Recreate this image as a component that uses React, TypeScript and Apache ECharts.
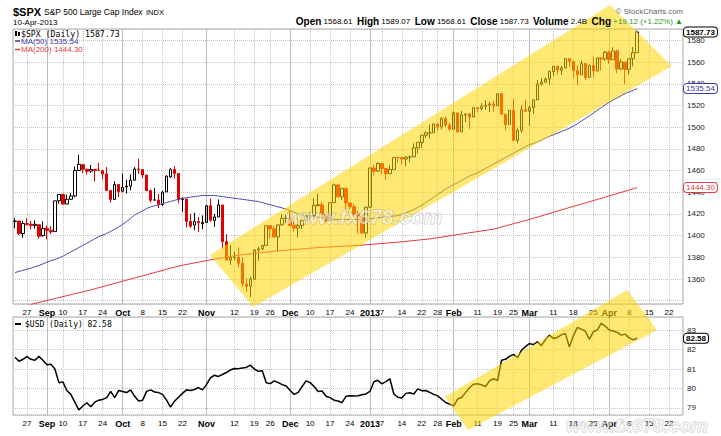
import { useEffect, useRef } from 'react';
import * as echarts from 'echarts';

const SANS = 'Liberation Sans, Arial, sans-serif';
const MONO = 'DejaVu Sans Mono, monospace';

// trading days (categories), incl. empty future slots
const dates = [
  '2012-08-22','2012-08-23','2012-08-24','2012-08-27','2012-08-28','2012-08-29','2012-08-30','2012-08-31',
  '2012-09-04','2012-09-05','2012-09-06','2012-09-07','2012-09-10','2012-09-11','2012-09-12','2012-09-13','2012-09-14',
  '2012-09-17','2012-09-18','2012-09-19','2012-09-20','2012-09-21','2012-09-24','2012-09-25','2012-09-26','2012-09-27','2012-09-28',
  '2012-10-01','2012-10-02','2012-10-03','2012-10-04','2012-10-05','2012-10-08','2012-10-09','2012-10-10','2012-10-11','2012-10-12',
  '2012-10-15','2012-10-16','2012-10-17','2012-10-18','2012-10-19','2012-10-22','2012-10-23','2012-10-24','2012-10-25','2012-10-26','2012-10-31',
  '2012-11-01','2012-11-02','2012-11-05','2012-11-06','2012-11-07','2012-11-08','2012-11-09','2012-11-12','2012-11-13','2012-11-14',
  '2012-11-15','2012-11-16','2012-11-19','2012-11-20','2012-11-21','2012-11-23','2012-11-26','2012-11-27','2012-11-28','2012-11-29','2012-11-30',
  '2012-12-03','2012-12-04','2012-12-05','2012-12-06','2012-12-07','2012-12-10','2012-12-11','2012-12-12','2012-12-13','2012-12-14',
  '2012-12-17','2012-12-18','2012-12-19','2012-12-20','2012-12-21','2012-12-24','2012-12-26','2012-12-27','2012-12-28','2012-12-31',
  '2013-01-02','2013-01-03','2013-01-04','2013-01-07','2013-01-08','2013-01-09','2013-01-10','2013-01-11','2013-01-14','2013-01-15',
  '2013-01-16','2013-01-17','2013-01-18','2013-01-22','2013-01-23','2013-01-24','2013-01-25','2013-01-28','2013-01-29','2013-01-30','2013-01-31',
  '2013-02-01','2013-02-04','2013-02-05','2013-02-06','2013-02-07','2013-02-08','2013-02-11','2013-02-12','2013-02-13','2013-02-14',
  '2013-02-15','2013-02-19','2013-02-20','2013-02-21','2013-02-22','2013-02-25','2013-02-26','2013-02-27','2013-02-28',
  '2013-03-01','2013-03-04','2013-03-05','2013-03-06','2013-03-07','2013-03-08','2013-03-11','2013-03-12','2013-03-13','2013-03-14',
  '2013-03-15','2013-03-18','2013-03-19','2013-03-20','2013-03-21','2013-03-22','2013-03-25','2013-03-26','2013-03-27','2013-03-28',
  '2013-04-01','2013-04-02','2013-04-03','2013-04-04','2013-04-05','2013-04-08','2013-04-09','2013-04-10',
  '2013-04-11','2013-04-12','2013-04-15','2013-04-16','2013-04-17','2013-04-18','2013-04-19','2013-04-22','2013-04-23','2013-04-24','2013-04-25',
];

const tickDates = ['2012-08-27','2012-09-04','2012-09-10','2012-09-17','2012-09-24','2012-10-01','2012-10-08','2012-10-15','2012-10-22',
  '2012-11-01','2012-11-12','2012-11-19','2012-11-26','2012-12-03','2012-12-10','2012-12-17','2012-12-24','2013-01-02','2013-01-07',
  '2013-01-14','2013-01-22','2013-01-28','2013-02-01','2013-02-11','2013-02-19','2013-02-25','2013-03-01','2013-03-11','2013-03-18',
  '2013-03-25','2013-04-01','2013-04-08','2013-04-15','2013-04-22'];
const tickTexts = ['27','Sep','10','17','24','Oct','8','15','22','Nov','12','19','26','Dec','10','17','24','2013','7',
  '14','22','28','Feb','11','19','25','Mar','11','18','25','Apr','8','15','22'];
const boldTicks = ['Sep','Oct','Nov','Dec','2013','Feb','Mar','Apr'];

const spxOpen = [1413.09,1413.49,1401.99,1411.13,1410.44,1409.32,1410.08,1400.07,1406.54,1404.94,1403.74,1432.12,1437.92,1429.13,1433.56,1436.56,1460.07,
  1465.42,1461.19,1459.50,1461.05,1460.34,1459.76,1456.94,1441.60,1433.36,1447.13,1440.90,1444.99,1445.75,1451.08,1461.40,1460.93,1455.90,1441.48,
  1432.82,1432.84,1428.75,1440.31,1454.22,1460.94,1457.34,1433.21,1433.74,1413.20,1409.74,1412.97,1410.99,1412.20,1427.59,1414.02,1417.26,1428.27,
  1394.53,1377.55,1379.86,1380.03,1374.64,1355.41,1353.36,1359.88,1386.82,1387.79,1391.03,1409.15,1406.29,1398.77,1409.96,1415.95,1416.34,1409.46,
  1407.05,1409.43,1413.95,1418.07,1418.55,1427.84,1428.48,1419.45,1413.54,1430.47,1446.79,1435.81,1443.67,1430.15,1426.66,1419.83,1418.10,1402.43,
  1426.19,1462.42,1459.37,1466.47,1461.89,1457.15,1461.02,1472.12,1472.05,1470.67,1472.33,1472.63,1480.95,1485.98,1492.56,1494.81,1494.82,1502.96,
  1500.18,1507.84,1501.96,1498.11,1513.17,1495.71,1511.29,1512.12,1509.39,1517.93,1517.01,1519.43,1520.33,1521.38,1519.79,1530.94,1511.95,1502.42,
  1515.60,1487.85,1496.94,1515.99,1514.68,1518.20,1525.20,1539.79,1541.46,1544.26,1551.15,1556.22,1552.48,1554.52,1563.21,1560.70,1552.10,1548.34,
  1558.71,1545.90,1556.89,1551.69,1563.75,1562.86,1569.18,1562.17,1570.25,1553.69,1559.98,1553.26,1563.11,1568.61];
const spxHigh = [1416.12,1413.49,1413.46,1416.17,1413.63,1413.95,1410.08,1413.09,1409.31,1408.81,1432.12,1437.92,1438.74,1437.76,1439.15,1463.76,1474.51,
  1465.63,1461.47,1465.15,1461.23,1467.07,1460.72,1463.24,1441.60,1450.20,1447.13,1457.14,1451.52,1456.48,1463.14,1470.96,1460.93,1455.90,1442.52,
  1443.90,1438.43,1441.31,1455.51,1462.20,1464.02,1457.34,1435.46,1433.74,1420.04,1421.12,1417.09,1418.76,1428.35,1434.27,1419.90,1433.38,1428.27,
  1401.23,1391.39,1384.87,1388.81,1380.13,1360.62,1362.03,1386.89,1389.77,1391.25,1409.16,1409.15,1409.01,1410.31,1419.70,1418.86,1423.73,1413.14,
  1415.56,1413.95,1420.34,1421.64,1434.27,1438.59,1431.36,1419.45,1430.67,1448.00,1447.75,1443.70,1443.67,1430.15,1429.42,1422.80,1418.10,1426.74,
  1462.43,1465.47,1467.94,1466.47,1461.89,1464.73,1472.30,1472.75,1472.05,1473.31,1473.96,1485.16,1485.98,1492.56,1496.13,1502.27,1503.26,1503.23,
  1509.35,1509.94,1504.19,1514.41,1513.17,1514.96,1512.53,1512.90,1518.31,1518.31,1522.29,1524.69,1523.14,1524.24,1530.94,1530.94,1511.95,1515.64,
  1525.84,1498.99,1520.08,1525.34,1519.99,1525.27,1543.47,1545.25,1545.78,1552.48,1556.27,1556.77,1556.39,1563.32,1563.62,1560.70,1557.25,1561.56,
  1558.71,1557.74,1564.91,1563.95,1564.07,1570.28,1570.57,1573.66,1571.47,1562.60,1559.98,1563.07,1573.89,1589.07];
const spxLow = [1406.78,1400.50,1398.04,1409.11,1405.59,1406.57,1397.01,1398.96,1396.56,1401.25,1403.74,1429.49,1428.98,1429.13,1432.99,1435.34,1460.07,
  1457.55,1456.13,1457.88,1449.98,1459.51,1452.06,1441.59,1430.53,1433.36,1435.60,1440.90,1439.01,1441.78,1451.08,1456.89,1453.10,1441.18,1430.64,
  1432.82,1425.53,1427.24,1440.31,1453.35,1452.63,1429.85,1422.06,1407.56,1407.10,1405.14,1403.28,1405.95,1412.20,1412.91,1408.13,1417.26,1388.14,
  1377.51,1373.03,1377.19,1370.78,1352.50,1348.05,1343.35,1359.88,1377.04,1386.39,1391.03,1397.68,1398.03,1385.43,1409.04,1411.63,1408.46,1403.65,
  1398.23,1405.93,1410.90,1415.64,1418.55,1426.76,1416.00,1411.88,1413.54,1430.47,1435.80,1432.82,1422.58,1424.66,1416.43,1401.80,1401.58,1398.11,
  1426.19,1455.53,1458.99,1456.62,1451.64,1457.15,1461.02,1467.58,1465.69,1463.76,1467.60,1472.63,1475.81,1481.16,1489.90,1489.46,1494.82,1496.33,
  1498.09,1500.11,1496.76,1498.11,1495.02,1495.71,1504.71,1498.49,1509.39,1513.61,1515.61,1515.93,1514.02,1514.14,1519.79,1511.41,1497.29,1502.42,
  1487.85,1485.01,1494.88,1514.46,1501.48,1512.29,1525.20,1538.11,1541.46,1539.22,1547.36,1548.24,1548.25,1554.52,1555.74,1545.13,1538.57,1548.34,
  1543.55,1545.90,1546.22,1551.69,1551.90,1561.08,1558.47,1562.17,1549.80,1552.52,1539.50,1548.63,1556.03,1568.61];
const spxClose = [1413.49,1402.08,1411.13,1410.44,1409.30,1410.49,1399.48,1406.58,1404.94,1403.44,1432.12,1437.92,1429.08,1433.56,1436.56,1459.99,1465.77,
  1461.19,1459.32,1461.05,1460.26,1460.15,1456.89,1441.59,1433.32,1447.15,1440.67,1444.49,1445.75,1450.99,1461.40,1460.93,1455.88,1441.48,1432.56,
  1432.84,1428.59,1440.13,1454.92,1460.91,1457.34,1433.19,1433.82,1413.11,1408.75,1412.97,1411.94,1412.16,1427.59,1414.20,1417.26,1428.39,1394.53,
  1377.51,1379.85,1380.03,1374.53,1355.49,1353.33,1359.88,1386.89,1387.81,1391.03,1409.15,1406.29,1398.94,1409.93,1415.95,1416.18,1409.46,1407.05,
  1409.28,1413.94,1418.07,1418.55,1427.84,1428.48,1419.45,1413.58,1430.36,1446.79,1435.81,1443.69,1430.15,1426.66,1419.83,1418.10,1402.43,1426.19,
  1462.42,1459.37,1466.47,1461.89,1457.15,1461.02,1472.12,1472.05,1470.68,1472.34,1472.63,1480.94,1485.98,1492.56,1494.81,1494.82,1502.96,1500.18,
  1507.84,1501.96,1498.11,1513.17,1495.71,1511.29,1512.12,1509.39,1517.93,1517.01,1519.43,1520.33,1521.38,1519.79,1530.94,1511.95,1502.42,1515.60,
  1487.85,1496.94,1515.99,1514.68,1518.20,1525.20,1539.79,1541.46,1544.26,1551.18,1556.22,1552.48,1554.52,1563.23,1560.70,1552.10,1548.34,1558.71,
  1545.80,1556.89,1551.69,1563.77,1562.85,1569.19,1562.17,1570.25,1553.69,1559.98,1553.28,1563.07,1568.61,1587.73];

const ma50 = [1366,1367,1368,1369,1370,1371.5,1372.5,1374,1375.5,1377,
  1378,1379.5,1381,1383,1385,1387,1389,1391,1393,1395,
  1397,1399,1400.5,1402,1404,1406,1408,1410.5,1413,1416,
  1419,1421,1423,1425,1426.5,1427.5,1428.5,1429.5,1430.5,1431.5,
  1432.5,1433.5,1434.5,1435,1435.5,1436,1436.5,1437,1437,1437,
  1437,1436.5,1436,1435.5,1435,1434.5,1434,1433.5,1433,1432.5,
  1432,1431.5,1430.5,1429.5,1428.5,1427.5,1426.5,1425.5,1424.5,1423,
  1421.5,1420,1419,1418.5,1418,1417.5,1417,1416.5,1416,1415.5,
  1415,1415,1415,1415,1415,1415,1415,1415,1415,1415.5,
  1416,1416.5,1417,1417.5,1418,1418,1418.5,1419.5,1421,1422.5,
  1424,1426,1428,1430.5,1433,1435.5,1438,1440.5,1443,1445,
  1447,1449,1451,1453,1455,1456.5,1458,1460,1462,1464,
  1466,1468,1470,1472,1474,1476,1478,1480,1482,1484,
  1485,1486.5,1488,1490,1491.5,1493,1494.5,1496,1497.5,1499,
  1501,1503,1505.5,1508,1510.5,1513,1515.5,1518,1520.5,1523,
  1525,1527,1529,1531,1532.5,1534,1535.54];

const ma200Idx = [0,10,19,30,41,48,56,66,76,86,96,104,111,120,130,140,148,156];
const ma200Val = [1333,1342,1350,1361,1372,1377,1382,1386,1389,1391,1394,1397,1401,1406,1416,1427,1435.5,1444.3];

const usd = [81.60,81.40,81.50,81.64,81.50,81.45,81.65,81.45,81.22,81.25,
  81.00,80.30,80.34,79.90,79.70,79.30,78.90,79.10,79.27,79.06,
  79.30,79.40,79.44,79.53,79.85,79.53,79.90,79.85,79.79,79.93,
  79.60,79.36,79.40,79.85,79.93,79.82,79.79,79.70,79.40,79.05,
  79.35,79.55,79.75,79.93,79.90,79.95,80.05,79.93,80.20,80.55,
  80.68,80.62,80.72,80.82,80.95,81.03,81.02,81.05,81.08,81.20,
  81.00,80.88,80.91,80.30,80.25,80.39,80.30,80.20,80.13,79.90,
  79.70,79.80,80.10,80.39,80.30,80.10,79.85,79.87,79.60,79.53,
  79.40,79.36,79.27,79.60,79.63,79.62,79.63,79.68,79.72,79.85,
  80.35,80.42,80.24,80.35,80.50,79.72,79.55,79.51,79.75,79.78,
  79.72,79.98,79.89,79.90,79.80,79.70,79.62,79.45,79.28,79.20,
  79.11,79.46,79.54,79.80,80.05,80.22,80.24,80.18,80.10,80.40,
  80.50,80.41,81.45,81.50,81.65,81.75,81.59,81.96,82.15,82.31,
  82.25,82.40,82.20,82.50,82.74,82.57,82.62,82.75,82.83,82.13,
  82.70,83.14,83.05,82.95,82.52,82.91,83.00,83.35,83.20,83.00,
  82.95,82.88,82.74,82.79,82.60,82.50,82.58];

// channel corners: [category index, value]
const mainChannelIdx = [48.9, 149.2, 164.7, 59.7];
const mainChannelVal = [1382.2, 1612.6, 1556.4, 1334.2];
const usdChannelIdx = [107.8, 153.5, 161.0, 113.6];
const usdChannelVal = [79.58, 85.06, 83.0, 77.87];

const tickMap = new Map(tickDates.map((d, i) => [d, tickTexts[i]]));
const isBold = (t: string) => boldTicks.includes(t);

function mkX(gridIndex: number, kind: 'week' | 'month') {
  return {
    type: 'category', gridIndex, data: dates, boundaryGap: true,
    axisLine: { show: false }, axisTick: { show: false },
    axisLabel: kind === 'week' ? {
      show: true, margin: 4, fontSize: 8, color: '#000', fontFamily: SANS,
      interval: (_i: number, v: string) => tickMap.has(v),
      formatter: (v: string) => { const t = tickMap.get(v) || ''; return isBold(t) ? `{b|${t}}` : t; },
      rich: { b: { fontWeight: 'bold', fontSize: 9, fontFamily: SANS, color: '#000' } },
    } : { show: false },
    splitLine: {
      show: true, alignWithLabel: true,
      interval: kind === 'week'
        ? (_i: number, v: string) => tickMap.has(v) && !isBold(tickMap.get(v) || '')
        : (_i: number, v: string) => isBold(tickMap.get(v) || ''),
      lineStyle: kind === 'week' ? { color: '#c4c4c4', type: 'dotted', width: 1 } : { color: '#bdbdbd', type: 'solid', width: 1 },
    },
  };
}

// value tag at the right axis, drawn by a data-less series so it is never clipped
function tagSeries(xi: number, yi: number, value: number, text: string, color: string, bold: boolean) {
  return {
    type: 'line', xAxisIndex: xi, yAxisIndex: yi, data: [], clip: false, silent: true, z: 20,
    markLine: {
      symbol: ['none', 'none'], silent: true,
      lineStyle: { color: 'rgba(0,0,0,0)', width: 0 },
      label: {
        show: true, position: 'end', distance: 1, formatter: text, color, fontSize: 8,
        fontWeight: bold ? 'bold' : 'normal', fontFamily: SANS, backgroundColor: '#fff',
        borderColor: color, borderWidth: 1, borderRadius: 3, padding: [1, 2, 0, 2],
      },
      emphasis: { disabled: true },
      data: [{ yAxis: value }],
    },
  };
}

function channel(xi: number, yi: number, idxs: number[], vals: number[]) {
  return {
    type: 'custom', xAxisIndex: xi, yAxisIndex: yi, silent: true, clip: false, z: 5,
    data: [[0, vals[0]]],
    renderItem: (_p: any, api: any) => {
      const band = api.size([1, 0])[0];
      const pts = idxs.map((ix, k) => {
        const f = Math.floor(ix);
        const p = api.coord([f, vals[k]]);
        return [p[0] + (ix - f) * band, p[1]];
      });
      return { type: 'polygon', shape: { points: pts }, style: { fill: 'rgba(255, 214, 0, 0.55)' } };
    },
  };
}

export default function App() {
  const ref = useRef<HTMLDivElement>(null);
  useEffect(() => {
    if (!ref.current) return;
    const chart = echarts.init(ref.current, undefined, { renderer: 'svg' });
    const candles = spxOpen.map((o, i) => [o, spxClose[i], spxLow[i], spxHigh[i]]);
    const ma200 = ma200Idx.map((ix, k) => [dates[ix], ma200Val[k]]);
    const option: any = {
      animation: false,
      backgroundColor: '#fff',
      grid: [
        { left: 13, right: 38, top: 29, height: 275, show: true, borderColor: '#a8a8a8', borderWidth: 1 },
        { left: 13, right: 38, top: 317, height: 98, show: true, borderColor: '#a8a8a8', borderWidth: 1 },
      ],
      xAxis: [mkX(0, 'week'), mkX(0, 'month'), mkX(1, 'week'), mkX(1, 'month')],
      yAxis: [
        {
          type: 'value', gridIndex: 0, position: 'right', min: 1337, max: 1590.5, splitNumber: 13,
          axisLine: { show: false }, axisTick: { show: false },
          axisLabel: { margin: 4, fontSize: 8, color: '#222', fontFamily: SANS, showMinLabel: false, showMaxLabel: false,
            formatter: (v: number) => (v > 1350 && Math.abs(v % 20) < 1e-6 ? String(Math.round(v)) : '') },
          splitLine: { lineStyle: { color: '#c4c4c4', type: 'dotted' } },
        },
        {
          type: 'value', gridIndex: 1, position: 'right', min: 78.64, max: 83.67,
          axisLine: { show: false }, axisTick: { show: false },
          axisLabel: { margin: 4, fontSize: 8, color: '#222', fontFamily: SANS, showMinLabel: false, showMaxLabel: false,
            formatter: (v: number) => (Math.abs(v - Math.round(v)) < 1e-6 ? String(Math.round(v)) : '') },
          splitLine: { lineStyle: { color: '#c4c4c4', type: 'dotted' } },
        },
      ],
      series: [
        {
          type: 'candlestick', xAxisIndex: 0, yAxisIndex: 0, data: candles, barWidth: 3,
          itemStyle: { color: 'rgba(0,0,0,0)', color0: '#e00000', borderColor: '#000', borderColor0: '#e00000', borderWidth: 1 },
        },
        {
          type: 'line', xAxisIndex: 0, yAxisIndex: 0, data: ma50, showSymbol: false, silent: true,
          lineStyle: { color: '#4c4cae', width: 1 },
        },
        {
          type: 'line', xAxisIndex: 0, yAxisIndex: 0, data: ma200, showSymbol: false, silent: true,
          lineStyle: { color: '#e23c3c', width: 1 },
        },
        channel(0, 0, mainChannelIdx, mainChannelVal),
        {
          type: 'line', xAxisIndex: 2, yAxisIndex: 1, data: usd, showSymbol: false, silent: true,
          lineStyle: { color: '#000', width: 1.5 },
        },
        channel(2, 1, usdChannelIdx, usdChannelVal),
        tagSeries(0, 0, 1587.73, '1587.73', '#000', true),
        tagSeries(0, 0, 1535.54, '1535.54', '#3a3aa8', false),
        tagSeries(0, 0, 1444.30, '1444.30', '#e23c3c', false),
        tagSeries(2, 1, 82.58, '82.58', '#000', true),
      ],
      graphic: {
        elements: [
          { type: 'text', x: 13, y: 12, z: 100, style: { text: '$SPX', font: `bold 11px ${SANS}`, fill: '#000', verticalAlign: 'middle' } },
          { type: 'text', x: 44, y: 12, z: 100, style: { text: 'S&P 500 Large Cap Index', font: `8.5px ${SANS}`, fill: '#000', verticalAlign: 'middle' } },
          { type: 'text', x: 146, y: 12, z: 100, style: { text: 'INDX', font: `7.5px ${SANS}`, fill: '#000', verticalAlign: 'middle' } },
          { type: 'text', x: 13, y: 22, z: 100, style: { text: '10-Apr-2013', font: `8px ${SANS}`, fill: '#000', verticalAlign: 'middle' } },
          { type: 'text', x: 683, y: 11, z: 100, style: { text: '© StockCharts.com', font: `7.8px ${SANS}`, fill: '#666', align: 'right', verticalAlign: 'middle' } },
          {
            type: 'text', x: 683, y: 21, z: 100,
            style: {
              text: '{b|Open} {v|1568.61}  {b|High} {v|1589.07}  {b|Low} {v|1568.61}  {b|Close} {v|1587.73}  {b|Volume} {v|2.4B}  {b|Chg} {g|+19.12 (+1.22%)} {a|▲}',
              font: `8px ${SANS}`, fill: '#000', align: 'right', verticalAlign: 'middle',
              rich: {
                b: { font: `bold 10px ${SANS}`, fill: '#000' },
                v: { font: `8px ${SANS}`, fill: '#000' },
                g: { font: `8px ${SANS}`, fill: '#2e9e2e' },
                a: { font: `8px ${SANS}`, fill: '#1a9a1a' },
              },
            },
          },
          // price legend
          { type: 'rect', z: 100, shape: { x: 15, y: 31, width: 2, height: 5 }, style: { fill: '#000' } },
          { type: 'rect', z: 100, shape: { x: 18, y: 32, width: 2, height: 4 }, style: { fill: '#000' } },
          { type: 'text', x: 21, y: 34, z: 100, style: { text: '$SPX (Daily) 1587.73', font: `8.2px ${MONO}`, fill: '#000', verticalAlign: 'middle' } },
          { type: 'line', z: 100, shape: { x1: 15, y1: 41, x2: 20, y2: 41 }, style: { stroke: '#3a3aa8', lineWidth: 1.5 } },
          { type: 'text', x: 21, y: 41, z: 100, style: { text: 'MA(50) 1535.54', font: `8px ${SANS}`, fill: '#3a3aa8', verticalAlign: 'middle' } },
          { type: 'line', z: 100, shape: { x1: 15, y1: 49.5, x2: 20, y2: 49.5 }, style: { stroke: '#e23c3c', lineWidth: 1.5 } },
          { type: 'text', x: 21, y: 49.5, z: 100, style: { text: 'MA(200) 1444.30', font: `8px ${SANS}`, fill: '#e23c3c', verticalAlign: 'middle' } },
          // lower legend
          { type: 'line', z: 100, shape: { x1: 15, y1: 324, x2: 21, y2: 324 }, style: { stroke: '#000', lineWidth: 2 } },
          { type: 'text', x: 25, y: 324, z: 100, style: { text: '$USD (Daily) 82.58', font: `8px ${MONO}`, fill: '#000', verticalAlign: 'middle' } },
          // watermarks
          { type: 'text', x: 364, y: 216, z: 90, style: { text: 'www.fx678.com', font: `italic bold 21px ${SANS}`, fill: 'rgba(255,255,255,0.55)', stroke: 'rgba(120,120,120,0.4)', lineWidth: 1, align: 'center', verticalAlign: 'middle' } },
          { type: 'text', x: 637, y: 425, z: 90, style: { text: 'www.fx678.com', font: `italic bold 19px ${SANS}`, fill: 'rgba(255,255,255,0.55)', stroke: 'rgba(120,120,120,0.4)', lineWidth: 1, align: 'center', verticalAlign: 'middle' } },
        ],
      },
    };
    chart.setOption(option);
    return () => chart.dispose();
  }, []);
  return <div ref={ref} style={{ position: 'absolute', left: 0, top: 0, width: 721, height: 436 }} />;
}
